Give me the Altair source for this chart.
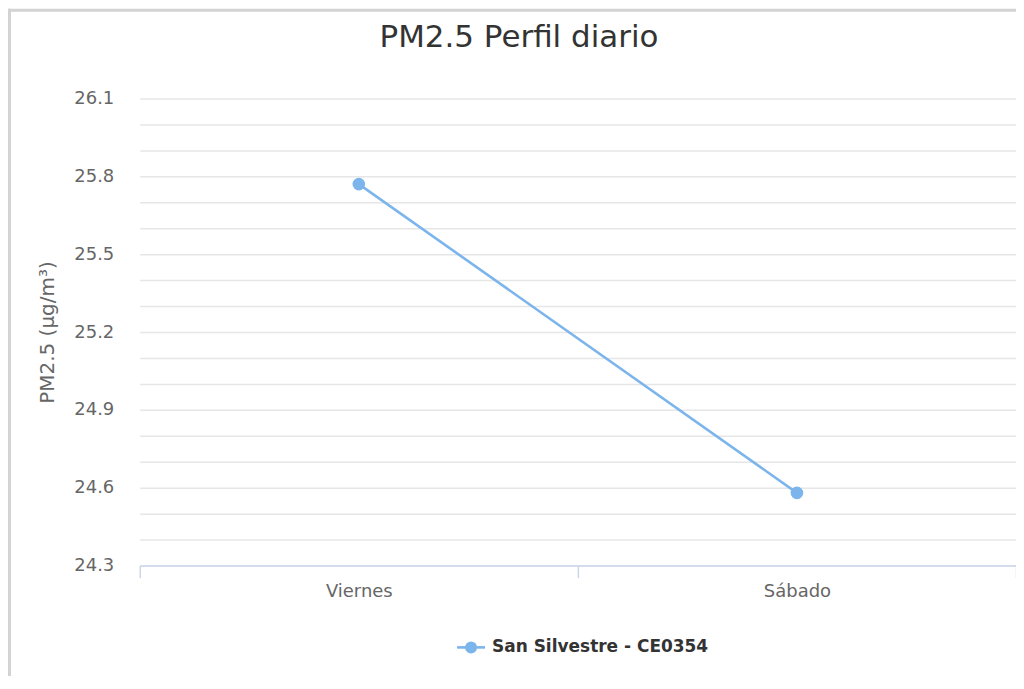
import altair as alt
import pandas as pd

# ---- data ----
DAYS = ["Viernes", "Sábado"]
PM25 = [25.77, 24.58]
SERIES_NAME = "San Silvestre - CE0354"
TITLE = "PM2.5 Perfil diario"
Y_TITLE = "PM2.5 (µg/m³)"
Y_DOMAIN = [24.3, 26.1]
Y_GRID_VALUES = [24.3, 24.4, 24.5, 24.6, 24.7, 24.8, 24.9, 25.0, 25.1, 25.2,
                 25.3, 25.4, 25.5, 25.6, 25.7, 25.8, 25.9, 26.0, 26.1]

df = pd.DataFrame({"day": DAYS, "pm25": PM25, "series": [SERIES_NAME] * len(DAYS)})
legend_df = pd.DataFrame({"series": [SERIES_NAME]})

W, H = 878, 468
COLOR = "#7cb5ec"
FONT = "DejaVu Sans"

x = alt.X(
    "day:N", sort=DAYS,
    scale=alt.Scale(type="band", paddingInner=0, paddingOuter=0),
    axis=alt.Axis(title=None, tickBand="extent", domainColor="#ccd6eb",
                  tickColor="#ccd6eb", tickSize=12, domainWidth=1.5, tickWidth=1.5,
                  labelPadding=5, labelFontSize=18, labelColor="#666666",
                  labelAngle=0, grid=False, labelFont=FONT),
)
y = alt.Y(
    "pm25:Q",
    scale=alt.Scale(domain=Y_DOMAIN, nice=False, zero=False),
    axis=alt.Axis(title=Y_TITLE, values=Y_GRID_VALUES,
                  labelExpr="abs(datum.value*10 - round(datum.value*10/3)*3) < 0.01 ? format(datum.value, '.1f') : ''",
                  ticks=False, domain=False, gridColor="#e6e6e6", gridWidth=1.5,
                  labelPadding=26, labelFontSize=18, labelColor="#666666", labelFont=FONT,
                  titleFontSize=20, titleColor="#666666", titleFontWeight="normal",
                  titleFont=FONT, titlePadding=16),
)

line = alt.Chart(df).mark_line(color=COLOR, strokeWidth=2.6).encode(x=x, y=y)
pts = alt.Chart(df).mark_point(filled=True, color=COLOR, size=160, opacity=1).encode(x=x, y=y)

leg = alt.Chart(legend_df)
leg_line = leg.mark_rule(color=COLOR, strokeWidth=2.6).encode(
    x=alt.value(318), x2=alt.value(346), y=alt.value(550))
leg_pt = leg.mark_point(filled=True, color=COLOR, size=144, opacity=1).encode(
    x=alt.value(332), y=alt.value(550))
leg_txt = leg.mark_text(align="left", baseline="middle", fontSize=17, fontWeight="bold",
                        color="#333333", font=FONT).encode(
    x=alt.value(353), y=alt.value(550), text="series:N")

border_top = leg.mark_rule(color="#d3d3d3", strokeWidth=3).encode(
    x=alt.value(-132), x2=alt.value(884), y=alt.value(-88.5))
border_left = leg.mark_rule(color="#d3d3d3", strokeWidth=3).encode(
    x=alt.value(-130.5), y=alt.value(-90), y2=alt.value(591))

chart = alt.layer(border_top, border_left, line, pts, leg_line, leg_pt, leg_txt).properties(
    width=W, height=H,
    padding={"left": 132, "top": 90, "right": 0, "bottom": 110},
    autosize=alt.AutoSizeParams(type="none"),
    title=alt.TitleParams(TITLE, fontSize=31, font=FONT, fontWeight="normal",
                          color="#333333", anchor="middle", dx=-59, offset=-47),
).configure_view(stroke=None)

chart.save("out.html", embed_options={"renderer": "svg", "actions": False})
